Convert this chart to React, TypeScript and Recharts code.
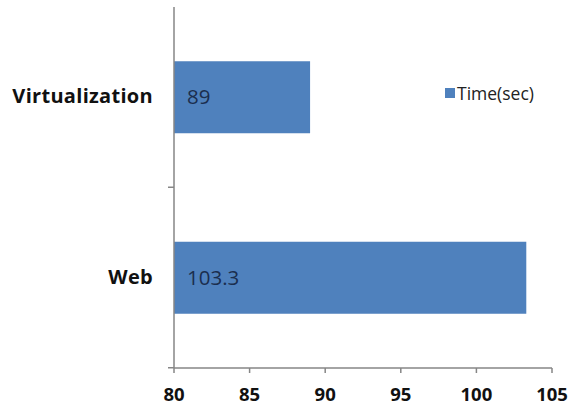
import { BarChart, Bar, XAxis, YAxis, Legend, LabelList } from "recharts";

const categories = ["Virtualization", "Web"];
const timeValues = [89, 103.3];
const xTicks = [80, 85, 90, 95, 100, 105];
const seriesName = "Time(sec)";

const data = categories.map((name, i) => ({ name, time: timeValues[i] }));

const BLUE = "#4F81BD";
const AXIS = "#868686";
const FONT = "'Open Sans', Lato, sans-serif";

function CategoryTick(props: any) {
  const { x, y, payload } = props;
  // band is ~180px tall, so the separating tick sits half a band below the label
  return (
    <g>
      <text x={x - 21} y={y} dy={6} textAnchor="end" fontFamily={FONT} fontWeight={700} fontSize={20} letterSpacing={0.3} fill="#111">
        {payload.value}
      </text>
      <line x1={x - 6} x2={x} y1={y + 90} y2={y + 90} stroke={AXIS} strokeWidth={1.5} />
    </g>
  );
}

function LegendContent() {
  return (
    <div style={{ display: "inline-flex", alignItems: "center", fontFamily: FONT, fontSize: 17.5, color: "#222", whiteSpace: "nowrap" }}>
      <span style={{ flexShrink: 0, width: 10, height: 10, background: BLUE, display: "inline-block", marginRight: 2 }} />
      {seriesName}
    </div>
  );
}

export default function App() {
  return (
    <div style={{ position: "absolute", left: 0, top: 0, width: 575, height: 406, background: "#fff" }}>
      <BarChart
        width={575}
        height={406}
        data={data}
        layout="vertical"
        margin={{ top: 7, right: 23, bottom: 8, left: 0 }}
        barCategoryGap="30%"
      >
        <XAxis
          type="number"
          domain={[80, 105]}
          ticks={xTicks}
          allowDataOverflow
          height={30}
          axisLine={{ stroke: AXIS, strokeWidth: 1.5 }}
          tickLine={{ stroke: AXIS, strokeWidth: 1.5 }}
          tickSize={5}
          tick={{ fontFamily: FONT, fontWeight: 700, fontSize: 18.5, fill: "#111" }}
          tickMargin={15}
        />
        <YAxis
          type="category"
          dataKey="name"
          width={174}
          axisLine={{ stroke: AXIS, strokeWidth: 1.5 }}
          tickLine={false}
          tickSize={0}
          tickMargin={0}
          tick={<CategoryTick />}
        />
        <Legend
          layout="horizontal"
          verticalAlign="middle"
          align="right"
          content={<LegendContent />}
          wrapperStyle={{ position: "absolute", left: 445, top: 81, width: 0, height: 0, overflow: "visible" }}
        />
        <Bar dataKey="time" name={seriesName} fill={BLUE} isAnimationActive={false}>
          <LabelList
            dataKey="time"
            position="insideLeft"
            offset={13}
            style={{ fontFamily: FONT, fontSize: 20.5, fill: "#1B2E4E" }}
          />
        </Bar>
      </BarChart>
    </div>
  );
}
